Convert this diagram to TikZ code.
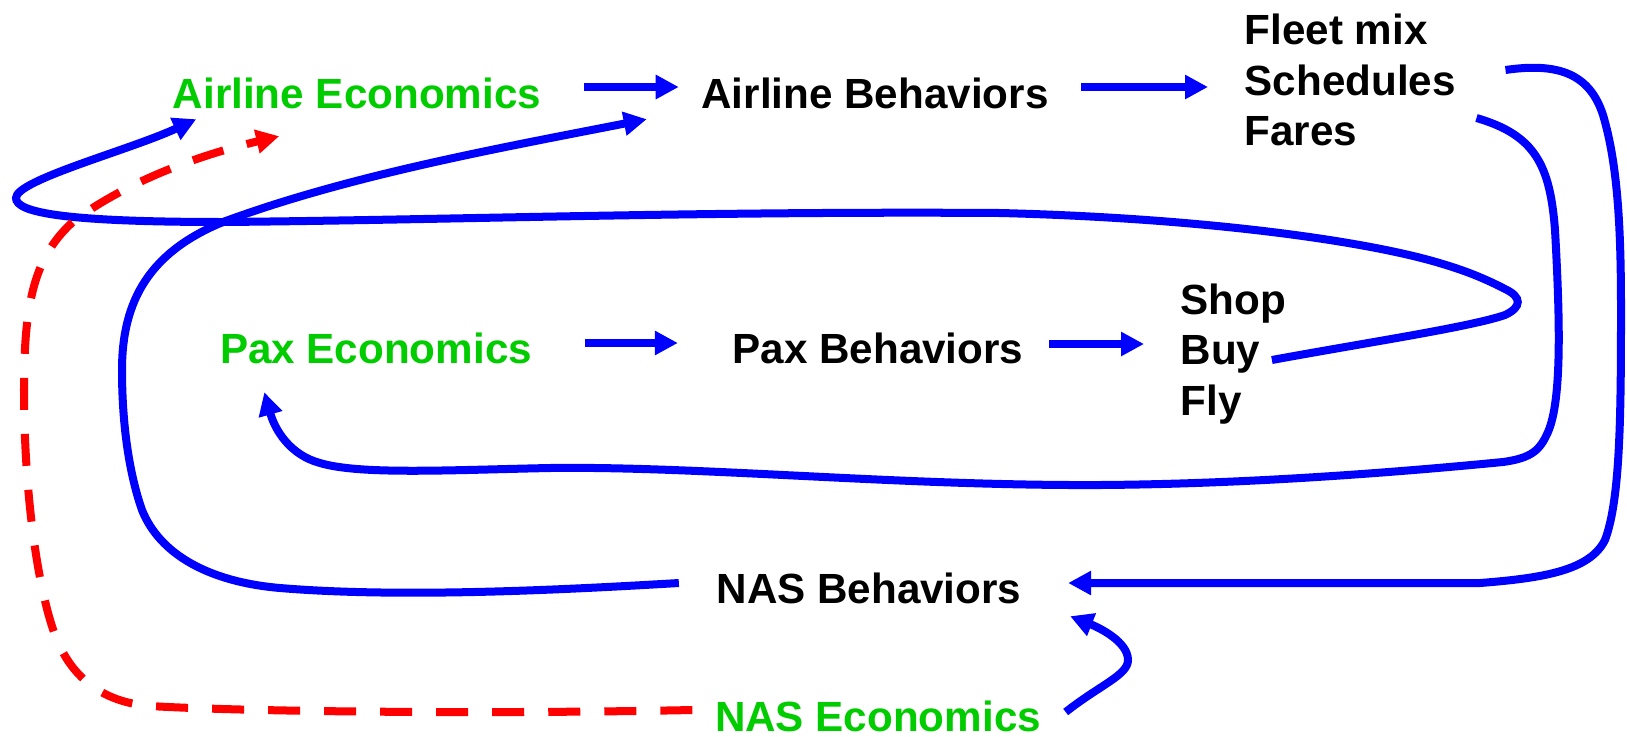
\documentclass[tikz,border=0pt]{standalone}
\usepackage{fontspec}
\setmainfont{Liberation Sans}
\usetikzlibrary{arrows.meta}
\definecolor{ecoGreen}{RGB}{0,204,0}

\begin{document}
\begin{tikzpicture}[x=0.01cm,y=-0.01cm,
    txt/.style={font=\fontsize{12}{14.4}\selectfont\bfseries, inner sep=0pt},
    eco/.style={txt, text=ecoGreen},
    beh/.style={txt, text=black},
    flow/.style={draw=blue, line width=0.08cm, -{Triangle[length=0.23cm,width=0.23cm]}},
    econLink/.style={flow, draw=red, dash pattern=on 0.32cm off 0.24cm}
  ]
\useasboundingbox (0,0) rectangle (1627,736);

\node[eco] (airEco) at (357,93) {Airline Economics};
\node[beh] (airBeh) at (875,93) {Airline Behaviors};
\node[beh, anchor=west, align=left] (airOut) at (1244,80) {Fleet mix\\Schedules\\Fares};
\node[eco] (paxEco) at (376,348) {Pax Economics};
\node[beh] (paxBeh) at (878,348) {Pax Behaviors};
\node[beh, anchor=west, align=left] (paxOut) at (1180,354) {Shop\\Buy\\Fly};
\node[beh] (nasBeh) at (869,588) {NAS Behaviors};
\node[eco] (nasEco) at (878,716) {NAS Economics};

% straight steps
\draw[flow] ([shift={(42,-6)}]airEco.east) -- ([shift={(-22,-6)}]airBeh.west);
\draw[flow] ([shift={(32,-6)}]airBeh.east) -- ([shift={(-36,7)}]airOut.west);
\draw[flow] ([shift={(52,-5)}]paxEco.east) -- ([shift={(-54,-5)}]paxBeh.west);
\draw[flow] ([shift={(25,-4)}]paxBeh.east) -- ([shift={(-36,-10)}]paxOut.west);

% feedback loops
\draw[flow] ([shift={(-15,6)}]paxOut.east)
  .. controls (1370,342) and (1470,327) .. (1505,315)
  .. controls (1522,307) and (1522,297) .. (1505,289)
  .. controls (1480,276) and (1460,269) .. (1436,262)
  .. controls (1360,240) and (1200,218) .. (1000,213)
  .. controls (700,211) and (450,220) .. (223,222)
  .. controls (60,222) and (16,212) .. (16,198)
  .. controls (16,180) and (130,150) .. ([shift={(24,10)}]airEco.south west);
\draw[flow] ([shift={(20,38)}]airOut.east)
  .. controls (1535,135) and (1550,165) .. (1555,230)
  .. controls (1560,320) and (1562,400) .. (1548,432)
  .. controls (1540,450) and (1532,458) .. (1503,462)
  .. controls (1400,472) and (1250,484) .. (1100,485)
  .. controls (900,486) and (700,466) .. (550,468)
  .. controls (450,470) and (360,475) .. (320,463)
  .. controls (290,455) and (275,430) .. ([shift={(45,28)}]paxEco.south west);
\draw[flow] ([shift={(49,-10)}]airOut.east)
  .. controls (1560,62) and (1590,75) .. (1603,115)
  .. controls (1618,165) and (1621,230) .. (1621,310)
  .. controls (1621,420) and (1620,500) .. (1605,540)
  .. controls (1590,570) and (1545,578) .. (1480,583)
  -- ([shift={(46,-5)}]nasBeh.east);
\draw[flow] ([shift={(-37,-5)}]nasBeh.west)
  .. controls (560,590) and (400,598) .. (280,588)
  .. controls (210,582) and (160,555) .. (142,510)
  .. controls (128,470) and (122,420) .. (122,370)
  .. controls (122,300) and (150,252) .. (223,222)
  .. controls (350,175) and (500,148) .. ([shift={(-54,10)}]airBeh.south west);
\draw[flow] ([shift={(24,-4)}]nasEco.east)
  .. controls (1100,685) and (1128,675) .. (1128,660)
  .. controls (1128,642) and (1100,628) .. ([shift={(48,12)}]nasBeh.south east);

% economics link
\draw[econLink] ([shift={(-22,-6)}]nasEco.west)
  .. controls (500,714) and (250,712) .. (150,706)
  .. controls (100,702) and (70,675) .. (55,635)
  .. controls (35,580) and (24,480) .. (24,390)
  .. controls (24,300) and (35,255) .. (75,220)
  .. controls (130,180) and (200,155) .. ([shift={(107,27)}]airEco.south west);

\end{tikzpicture}
\end{document}
